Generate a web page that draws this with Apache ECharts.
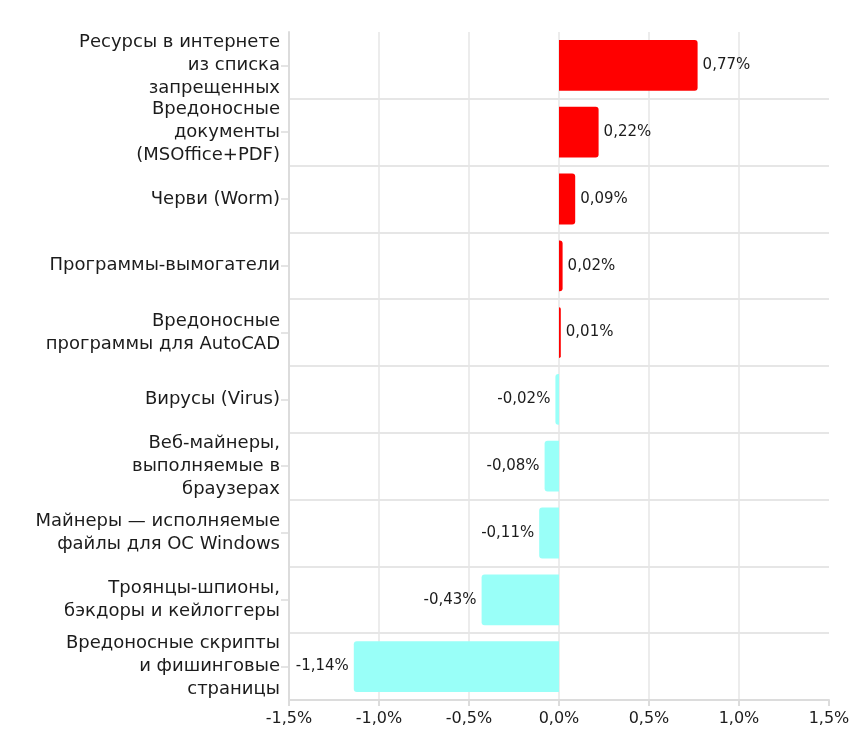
<!DOCTYPE html>
<html>
<head>
<meta charset="utf-8">
<script src="https://cdn.jsdelivr.net/npm/echarts@6/dist/echarts.min.js"></script>
<style>
    html, body { margin: 0; padding: 0; background: #fff; }
    #chart { width: 868px; height: 742px; }
</style>
</head>
<body>
<div id="chart"></div>
<script>
// categories, top to bottom
let categories = [
    'Ресурсы в интернете\nиз списка\nзапрещенных',
    'Вредоносные\nдокументы\n(MSOffice+PDF)',
    'Черви (Worm)',
    'Программы-вымогатели',
    'Вредоносные\nпрограммы для AutoCAD',
    'Вирусы (Virus)',
    'Веб-майнеры,\nвыполняемые в\nбраузерах',
    'Майнеры — исполняемые\nфайлы для ОС Windows',
    'Троянцы-шпионы,\nбэкдоры и кейлоггеры',
    'Вредоносные скрипты\nи фишинговые\nстраницы'
];
let changeValues = [0.77, 0.22, 0.09, 0.02, 0.01, -0.02, -0.08, -0.11, -0.43, -1.14];
let axisTicks = [-1.5, -1.0, -0.5, 0.0, 0.5, 1.0, 1.5];

let textColor = '#1c1c1c';
let gridColor = '#e6e6e6';
let fontName = '"DejaVu Sans", sans-serif';

function fmt(v, digits) {
    return v.toFixed(digits).replace('.', ',') + '%';
}

let chart = echarts.init(document.getElementById('chart'));

let barData = changeValues.map(function (v) {
    return {
        value: v,
        itemStyle: {
            color: v >= 0 ? '#ff0000' : '#99fff8',
            borderRadius: v >= 0 ? [0, 3, 3, 0] : [3, 0, 0, 3]
        },
        label: { position: v >= 0 ? 'right' : 'left' }
    };
});

// no vertical grid line at the right edge
let xSplitColors = axisTicks.map(function (t, i) {
    return i === axisTicks.length - 1 ? 'rgba(0,0,0,0)' : gridColor;
});

let option = {
    animation: false,
    grid: { left: 289, right: 39, top: 32, bottom: 42, containLabel: false },
    xAxis: {
        type: 'value',
        min: axisTicks[0],
        max: axisTicks[axisTicks.length - 1],
        interval: 0.5,
        axisLine: { show: true, lineStyle: { color: '#dcdcdc', width: 2 } },
        axisTick: { show: true, length: 6, lineStyle: { color: '#dcdcdc', width: 2 } },
        splitLine: { show: true, lineStyle: { color: xSplitColors, width: 1.5 } },
        axisLabel: {
            color: textColor,
            fontFamily: fontName,
            fontSize: 16,
            margin: 11,
            formatter: function (v) { return fmt(v, 1); }
        }
    },
    yAxis: {
        type: 'category',
        inverse: true,
        data: categories,
        axisLine: { show: true, onZero: false, lineStyle: { color: '#dcdcdc', width: 2 } },
        axisTick: { show: true, alignWithLabel: true, length: 8, lineStyle: { color: '#dcdcdc', width: 1.5 } },
        splitLine: { show: true, showMinLine: false, lineStyle: { color: gridColor, width: 2 } },
        axisLabel: {
            interval: 0,
            hideOverlap: false,
            color: textColor,
            fontFamily: fontName,
            fontSize: 18,
            lineHeight: 23,
            margin: 9,
            align: 'right'
        }
    },
    series: [{
        type: 'bar',
        data: barData,
        barWidth: '76%',
        label: {
            show: true,
            distance: 5,
            color: textColor,
            fontFamily: fontName,
            fontSize: 15,
            formatter: function (p) { return fmt(p.value, 2); }
        }
    }]
};

chart.setOption(option);
</script>
</body>
</html>
